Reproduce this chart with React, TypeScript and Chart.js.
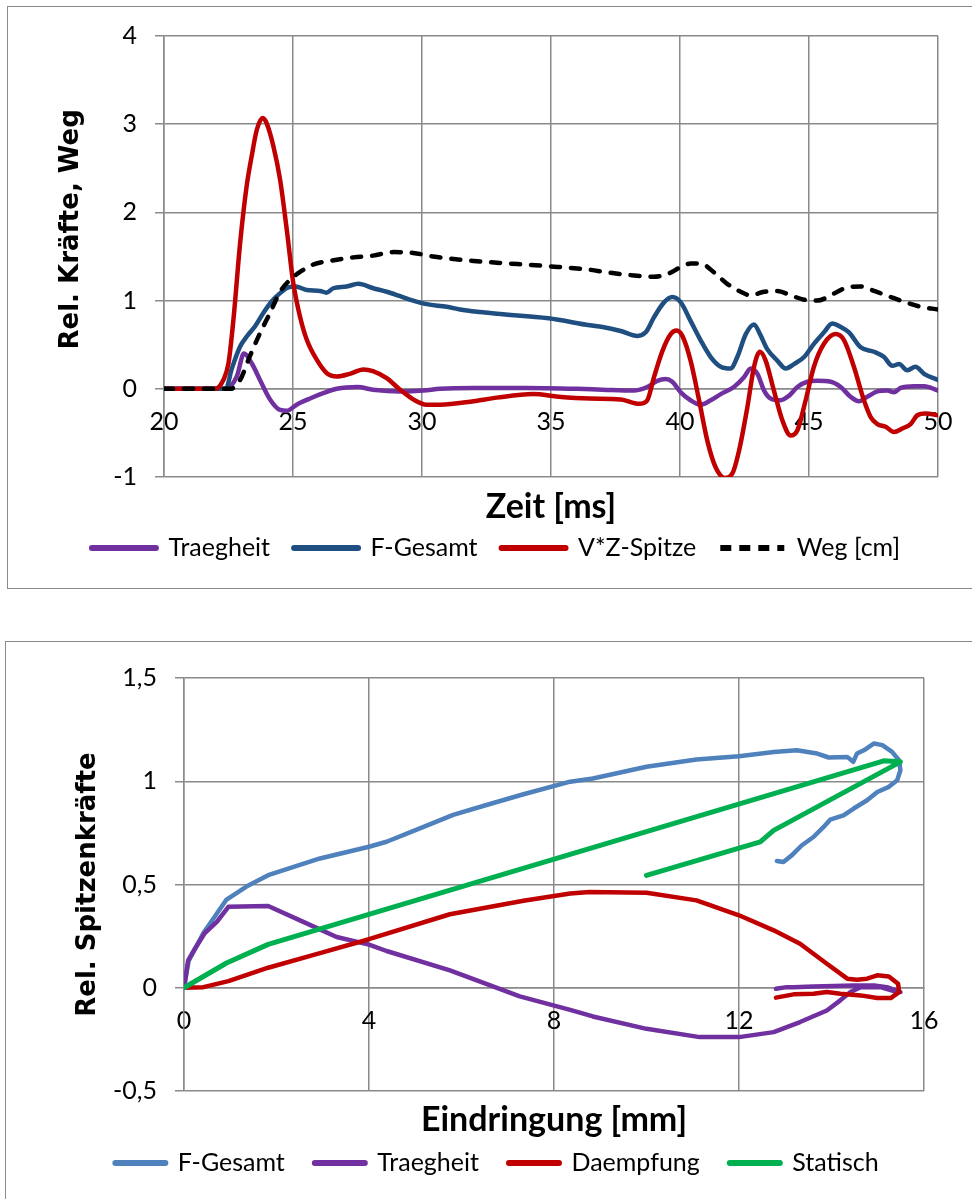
import React, { useEffect, useRef } from "react";
import { Chart, registerables } from "chart.js";

Chart.register(...registerables);

// ---------------- Top chart: Zeit [ms] ----------------
const zeitTicks = [20, 25, 30, 35, 40, 45, 50];
const zeitTickLabels = ["20", "25", "30", "35", "40", "45", "50"];
const kraftTicks = [-1, 0, 1, 2, 3, 4];
const kraftTickLabels = ["-1", "0", "1", "2", "3", "4"];

const topSeriesNames = ["Traegheit", "F-Gesamt", "V*Z-Spitze", "Weg [cm]"];

const traegheitZeit = [20, 22.4, 22.82, 23.1, 23.4, 23.72, 24.11, 24.5, 24.76, 25.14, 25.66, 26.17, 26.7, 27.5, 28.1, 29.15, 30.05, 30.7, 32, 34, 36, 37, 38.2, 38.73, 39.12, 39.44, 39.7, 40.03, 40.41, 40.8, 41.19, 41.58, 42.09, 42.48, 42.74, 43.0, 43.26, 43.51, 43.9, 44.22, 44.55, 44.94, 45.32, 45.84, 46.23, 46.61, 46.94, 47.26, 47.65, 48.04, 48.29, 48.55, 49.07, 49.46, 50];
const traegheitWert = [0, 0, 0.14, 0.4, 0.29, 0.1, -0.12, -0.24, -0.25, -0.18, -0.11, -0.05, 0.0, 0.02, -0.01, -0.03, -0.02, 0.0, 0.01, 0.01, 0.0, -0.01, -0.02, 0.02, 0.09, 0.11, 0.08, -0.04, -0.13, -0.18, -0.13, -0.06, 0.02, 0.13, 0.23, 0.17, -0.02, -0.11, -0.13, -0.08, 0.02, 0.08, 0.09, 0.08, 0.02, -0.09, -0.14, -0.09, -0.03, -0.02, -0.04, 0.01, 0.03, 0.03, -0.02];

const fGesamtZeit = [20, 22.4, 22.62, 22.95, 23.2, 23.53, 23.85, 24.17, 24.5, 24.82, 25.1, 25.53, 26.05, 26.3, 26.56, 27.08, 27.53, 28.11, 28.63, 29.15, 29.66, 30.18, 30.96, 31.47, 32.25, 32.9, 34.9, 36.5, 37.0, 37.7, 38.35, 38.67, 38.99, 39.38, 39.7, 40.03, 40.41, 40.8, 41.19, 41.58, 41.96, 42.22, 42.55, 42.87, 43.1, 43.38, 43.77, 44.1, 44.42, 44.81, 45.19, 45.58, 45.9, 46.23, 46.55, 47.0, 47.52, 47.91, 48.23, 48.49, 48.81, 49.13, 49.46, 50];
const fGesamtWert = [0, 0, 0.22, 0.48, 0.59, 0.71, 0.86, 0.99, 1.085, 1.15, 1.16, 1.12, 1.11, 1.09, 1.14, 1.16, 1.19, 1.14, 1.1, 1.05, 1.0, 0.96, 0.93, 0.9, 0.87, 0.85, 0.8, 0.72, 0.7, 0.655, 0.6, 0.64, 0.81, 0.98, 1.04, 0.98, 0.77, 0.55, 0.36, 0.25, 0.23, 0.36, 0.62, 0.73, 0.62, 0.45, 0.32, 0.23, 0.28, 0.36, 0.51, 0.64, 0.74, 0.7, 0.64, 0.47, 0.42, 0.36, 0.26, 0.28, 0.21, 0.25, 0.17, 0.1];

const spitzeZeit = [20, 21.98, 22.3, 22.5, 22.69, 22.95, 23.2, 23.4, 23.6, 23.83, 23.98, 24.24, 24.5, 24.76, 25.01, 25.27, 25.53, 25.92, 26.3, 26.7, 27.2, 27.73, 28.1, 28.63, 29.15, 29.66, 30.18, 30.7, 32.0, 32.9, 34.3, 35.3, 36.5, 37.7, 38.41, 38.73, 38.99, 39.32, 39.64, 39.87, 40.09, 40.41, 40.74, 41.06, 41.38, 41.73, 42.03, 42.29, 42.61, 42.87, 43.1, 43.32, 43.64, 43.97, 44.29, 44.55, 44.87, 45.19, 45.58, 46.03, 46.36, 46.74, 47.13, 47.39, 47.65, 47.97, 48.29, 48.62, 48.94, 49.2, 49.52, 50];
const spitzeWert = [0, 0, 0.1, 0.29, 0.78, 1.65, 2.29, 2.64, 2.94, 3.07, 3.01, 2.75, 2.37, 1.8, 1.2, 0.82, 0.56, 0.33, 0.18, 0.14, 0.17, 0.22, 0.2, 0.12, -0.01, -0.12, -0.18, -0.18, -0.14, -0.1, -0.06, -0.09, -0.11, -0.12, -0.17, -0.13, 0.13, 0.43, 0.62, 0.66, 0.6, 0.32, -0.13, -0.59, -0.89, -1.01, -0.96, -0.7, -0.21, 0.25, 0.42, 0.32, -0.02, -0.36, -0.53, -0.47, -0.13, 0.25, 0.51, 0.62, 0.55, 0.25, -0.13, -0.32, -0.4, -0.43, -0.49, -0.45, -0.4, -0.3, -0.28, -0.3];

const wegZeit = [20, 22.58, 22.95, 23.33, 23.72, 24.11, 24.5, 24.9, 25.3, 25.8, 26.43, 27.34, 28.1, 28.9, 29.66, 30.44, 32.0, 32.9, 34.9, 36.5, 37.18, 38.22, 38.99, 39.51, 40.03, 40.41, 40.8, 41.32, 41.83, 42.35, 42.74, 43.26, 43.77, 44.29, 44.81, 45.32, 45.97, 46.49, 47.0, 47.52, 48.17, 48.81, 49.33, 50];
const wegWert = [0, 0, 0.1, 0.37, 0.63, 0.86, 1.1, 1.24, 1.33, 1.41, 1.45, 1.49, 1.51, 1.55, 1.54, 1.5, 1.45, 1.43, 1.39, 1.35, 1.32, 1.285, 1.27, 1.3, 1.38, 1.42, 1.42, 1.32, 1.19, 1.1, 1.06, 1.1, 1.11, 1.06, 1.01, 1.0, 1.08, 1.15, 1.16, 1.11, 1.04, 0.975, 0.93, 0.9];

// ---------------- Bottom chart: Eindringung [mm] ----------------
const eindringTicks = [0, 4, 8, 12, 16];
const eindringTickLabels = ["0", "4", "8", "12", "16"];
const spitzenTicks = [-0.5, 0, 0.5, 1, 1.5];
const spitzenTickLabels = ["-0,5", "0", "0,5", "1", "1,5"];

const bottomSeriesNames = ["F-Gesamt", "Traegheit", "Daempfung", "Statisch"];

const gesamtWeg = [0, 0.1, 0.42, 0.92, 1.35, 1.82, 2.94, 4.0, 4.38, 5.1, 5.82, 6.54, 7.34, 8.35, 8.84, 10.0, 11.08, 12.0, 12.75, 13.25, 13.69, 13.94, 14.34, 14.47, 14.55, 14.7, 14.92, 15.1, 15.31, 15.46, 15.49, 15.42, 15.24, 14.99, 14.77, 14.48, 14.26, 13.97, 13.83, 13.61, 13.36, 13.14, 12.96, 12.82];
const gesamtKraft = [0, 0.13, 0.265, 0.427, 0.49, 0.545, 0.626, 0.683, 0.707, 0.772, 0.837, 0.885, 0.937, 0.998, 1.013, 1.07, 1.105, 1.121, 1.142, 1.15, 1.134, 1.115, 1.118, 1.094, 1.134, 1.15, 1.183, 1.175, 1.142, 1.102, 1.053, 1.005, 0.973, 0.948, 0.908, 0.868, 0.835, 0.814, 0.779, 0.73, 0.69, 0.641, 0.609, 0.614];

const traegWeg = [0, 0.09, 0.24, 0.45, 0.71, 0.96, 1.82, 2.58, 3.3, 4.0, 4.38, 5.75, 7.26, 8.35, 8.84, 10.0, 11.15, 12.0, 12.75, 13.32, 13.9, 14.19, 14.41, 14.63, 15.06, 15.35, 15.49, 15.2, 14.92, 14.48, 14.05, 13.61, 13.18, 13.03, 12.8];
const traegKraft = [0, 0.133, 0.19, 0.265, 0.319, 0.392, 0.396, 0.319, 0.246, 0.209, 0.178, 0.084, -0.042, -0.107, -0.139, -0.199, -0.239, -0.239, -0.215, -0.166, -0.11, -0.061, -0.021, 0.003, 0.003, -0.016, -0.021, 0.003, 0.011, 0.011, 0.008, 0.006, 0.003, 0.003, -0.005];

const daempfWeg = [0, 0.42, 0.96, 1.82, 2.94, 4.0, 5.75, 7.34, 8.35, 8.77, 10.0, 11.08, 12.0, 12.75, 13.32, 13.9, 14.34, 14.55, 14.77, 14.99, 15.24, 15.44, 15.46, 15.28, 14.99, 14.63, 14.19, 13.9, 13.61, 13.18, 12.8];
const daempfKraft = [0, 0.003, 0.032, 0.097, 0.168, 0.235, 0.356, 0.421, 0.456, 0.464, 0.46, 0.423, 0.351, 0.278, 0.213, 0.116, 0.044, 0.039, 0.044, 0.06, 0.055, 0.019, -0.021, -0.05, -0.05, -0.037, -0.029, -0.021, -0.029, -0.032, -0.048];

const statWeg = [0, 0.92, 1.82, 15.13, 15.49, 12.75, 12.46, 10.0];
const statKraft = [0, 0.12, 0.21, 1.099, 1.094, 0.762, 0.706, 0.544];

// ---------------- helpers ----------------
const GRID = "#8a8a8a";
const TEXT_FONT = "Lato, 'Open Sans', sans-serif";
const YTITLE_FONT = "'DejaVu Sans', Verdana, sans-serif";

const toPoints = (xs: number[], ys: number[]) => xs.map((x, i) => ({ x, y: ys[i] }));

const labelFrom = (ticks: number[], labels: string[]) => (v: any) => {
  const n = Number(v);
  const i = ticks.findIndex((t) => Math.abs(t - n) < 1e-6);
  return i >= 0 ? labels[i] : "";
};

const setTicks = (ticks: number[]) => (scale: any) => {
  scale.ticks = ticks.map((value) => ({ value }));
};

const legendLabels = (chart: any) =>
  chart.data.datasets.map((ds: any, i: number) => ({
    text: ds.label,
    fillStyle: ds.borderColor,
    strokeStyle: ds.borderColor,
    lineWidth: 6,
    lineCap: ds.borderDash ? "butt" : "round",
    lineDash: ds.borderDash ? [11, 8] : [],
    pointStyle: "line",
    hidden: false,
    datasetIndex: i,
  }));

const lineSet = (label: string, pts: any[], color: string, order: number, extra: any = {}) => ({
  label,
  data: pts,
  showLine: true,
  borderColor: color,
  backgroundColor: color,
  borderWidth: 4.5,
  pointRadius: 0,
  pointHoverRadius: 0,
  borderJoinStyle: "round",
  borderCapStyle: "round",
  fill: false,
  order,
  xAxisID: "x",
  yAxisID: "y",
  ...extra,
});

const smooth = { cubicInterpolationMode: "monotone", borderWidth: 4.5 };

function topConfig(): any {
  return {
    type: "scatter",
    data: {
      datasets: [
        lineSet(topSeriesNames[0], toPoints(traegheitZeit, traegheitWert), "#7030A0", 3, smooth),
        lineSet(topSeriesNames[1], toPoints(fGesamtZeit, fGesamtWert), "#1F4E80", 2, smooth),
        lineSet(topSeriesNames[2], toPoints(spitzeZeit, spitzeWert), "#C00000", 1, smooth),
        lineSet(topSeriesNames[3], toPoints(wegZeit, wegWert), "#000000", 0, {
          ...smooth,
          borderDash: [9, 11],
          borderCapStyle: "round",
        }),
      ],
    },
    options: {
      responsive: false,
      animation: false,
      events: [],
      layout: { padding: { left: 54, right: 34, top: 36, bottom: 19.5 } },
      plugins: {
        tooltip: { enabled: false },
        legend: {
          position: "bottom",
          labels: {
            usePointStyle: true,
            pointStyle: "line",
            pointStyleWidth: 64,
            padding: 24,
            color: "#000",
            font: { family: TEXT_FONT, size: 25 },
            generateLabels: legendLabels,
          },
        },
      },
      scales: {
        x: {
          type: "linear",
          min: 20,
          max: 50,
          position: { y: 0 },
          afterBuildTicks: setTicks(zeitTicks),
          ticks: {
            padding: 18,
            color: "#000",
            font: { family: TEXT_FONT, size: 25 },
            maxRotation: 0,
            autoSkip: false,
            callback: labelFrom(zeitTicks, zeitTickLabels),
          },
          grid: { color: GRID, lineWidth: 1.5, drawTicks: false },
          border: { color: GRID, width: 1.5 },
        },
        xt: {
          type: "linear",
          axis: "x",
          min: 20,
          max: 50,
          position: "bottom",
          ticks: { display: false },
          grid: { display: false, drawTicks: false },
          border: { display: false },
          title: {
            display: true,
            text: "Zeit [ms]",
            color: "#000",
            font: { family: TEXT_FONT, size: 34, weight: "bold", lineHeight: 1 },
            padding: { top: 0, bottom: -12.5 },
          },
          afterFit: (s: any) => {
            s.height = 34.5;
          },
        },
        y: {
          type: "linear",
          min: -1,
          max: 4,
          position: "left",
          afterBuildTicks: setTicks(kraftTicks),
          ticks: {
            padding: 18,
            color: "#000",
            font: { family: TEXT_FONT, size: 25 },
            callback: labelFrom(kraftTicks, kraftTickLabels),
          },
          grid: { color: GRID, lineWidth: 1.5, tickLength: 9 },
          border: { color: GRID, width: 1.5 },
          title: {
            display: true,
            text: "      Rel. Kräfte, Weg",
            color: "#000",
            font: { family: YTITLE_FONT, size: 26, weight: "bold", lineHeight: 1 },
            padding: { top: 4, bottom: 0 },
          },
          afterFit: (s: any) => {
            s.width = 110;
          },
        },
      },
    },
  };
}

function bottomConfig(): any {
  return {
    type: "scatter",
    data: {
      datasets: [
        lineSet(bottomSeriesNames[0], toPoints(gesamtWeg, gesamtKraft), "#4F81BD", 3),
        lineSet(bottomSeriesNames[1], toPoints(traegWeg, traegKraft), "#7030A0", 2),
        lineSet(bottomSeriesNames[2], toPoints(daempfWeg, daempfKraft), "#C00000", 1),
        lineSet(bottomSeriesNames[3], toPoints(statWeg, statKraft), "#00B050", 0, { borderWidth: 5 }),
      ],
    },
    options: {
      responsive: false,
      animation: false,
      events: [],
      layout: { padding: { left: 70, right: 48, top: 37, bottom: 13.5 } },
      plugins: {
        tooltip: { enabled: false },
        legend: {
          position: "bottom",
          labels: {
            usePointStyle: true,
            pointStyle: "line",
            pointStyleWidth: 50,
            padding: 30,
            color: "#000",
            font: { family: TEXT_FONT, size: 25 },
            generateLabels: legendLabels,
          },
        },
      },
      scales: {
        x: {
          type: "linear",
          min: 0,
          max: 16,
          position: { y: 0 },
          afterBuildTicks: setTicks(eindringTicks),
          ticks: {
            padding: 18.5,
            color: "#000",
            font: { family: TEXT_FONT, size: 25 },
            maxRotation: 0,
            autoSkip: false,
            callback: labelFrom(eindringTicks, eindringTickLabels),
          },
          grid: { color: GRID, lineWidth: 1.5, drawTicks: false },
          border: { color: GRID, width: 1.5 },
        },
        xt: {
          type: "linear",
          axis: "x",
          min: 0,
          max: 16,
          position: "bottom",
          ticks: { display: false },
          grid: { display: false, drawTicks: false },
          border: { display: false },
          title: {
            display: true,
            text: "Eindringung [mm]",
            color: "#000",
            font: { family: TEXT_FONT, size: 34, weight: "bold", lineHeight: 1 },
            padding: { top: 0, bottom: -16.5 },
          },
          afterFit: (s: any) => {
            s.height = 29.5;
          },
        },
        y: {
          type: "linear",
          min: -0.5,
          max: 1.5,
          position: "left",
          afterBuildTicks: setTicks(spitzenTicks),
          ticks: {
            padding: 18,
            color: "#000",
            font: { family: TEXT_FONT, size: 25 },
            callback: labelFrom(spitzenTicks, spitzenTickLabels),
          },
          grid: { color: GRID, lineWidth: 1.5, tickLength: 9 },
          border: { color: GRID, width: 1.5 },
          title: {
            display: true,
            text: "Rel. Spitzenkräfte",
            color: "#000",
            font: { family: YTITLE_FONT, size: 26, weight: "bold", lineHeight: 1 },
            padding: { top: 5, bottom: 0 },
          },
          afterFit: (s: any) => {
            s.width = 114;
          },
        },
      },
    },
  };
}

export default function App() {
  const topRef = useRef<HTMLCanvasElement>(null);
  const botRef = useRef<HTMLCanvasElement>(null);

  useEffect(() => {
    const c1 = new Chart(topRef.current as HTMLCanvasElement, topConfig());
    const c2 = new Chart(botRef.current as HTMLCanvasElement, bottomConfig());
    return () => {
      c1.destroy();
      c2.destroy();
    };
  }, []);

  return (
    <div>
      <div
        style={{
          position: "absolute",
          left: 7,
          top: 6,
          width: 965,
          height: 583,
          border: "1px solid #8a8a8a",
          borderRight: "none",
          boxSizing: "border-box",
        }}
      />
      <canvas
        ref={topRef}
        width={972}
        height={590}
        style={{ position: "absolute", left: 0, top: 0, width: 972, height: 590, display: "block" }}
      />
      <div
        style={{
          position: "absolute",
          left: 5,
          top: 641,
          width: 967,
          height: 558,
          border: "1px solid #8a8a8a",
          borderRight: "none",
          borderBottom: "none",
          boxSizing: "border-box",
        }}
      />
      <canvas
        ref={botRef}
        width={972}
        height={558}
        style={{ position: "absolute", left: 0, top: 641, width: 972, height: 558, display: "block" }}
      />
    </div>
  );
}
